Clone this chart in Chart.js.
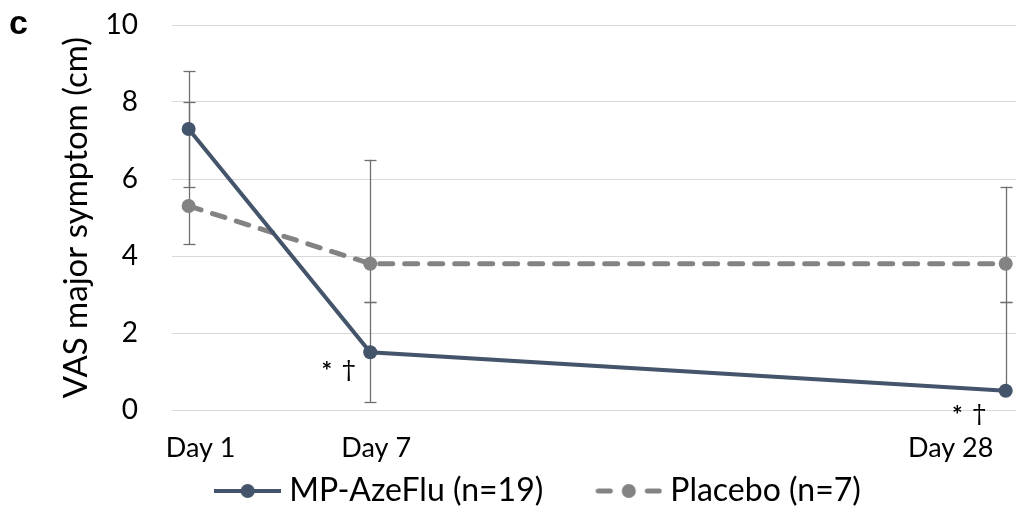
<!DOCTYPE html>
<html><head><meta charset="utf-8">
<script src="https://cdn.jsdelivr.net/npm/chart.js@4.4.1/dist/chart.umd.min.js"></script>
<style>html,body{margin:0;padding:0;background:#fff;}#wrap{width:1023px;height:517px;position:relative;}</style>
</head><body><div id="wrap"><canvas id="c" width="1023" height="517"></canvas></div>
<script>
// ---- data ----
const days = [1, 7, 28];
const dayLabels = ['Day 1', 'Day 7', 'Day 28'];
const yTickValues = [0, 2, 4, 6, 8, 10];
const seriesNames = ['MP-AzeFlu (n=19)', 'Placebo (n=7)'];
const mpValues = [7.3, 1.5, 0.5];
const mpUpper = [8.8, 2.8, 2.8];
const mpLower = [5.8, 0.2, null];
const placeboValues = [5.3, 3.8, 3.8];
const placeboUpper = [8.0, 6.5, 5.8];
const placeboLower = [4.3, 2.8, 2.8];
const mpAsterisk = ['', '*', '*'];
const mpDagger = ['', '†', '†'];
const yTitle = 'VAS major symptom (cm)';
const panelLetter = 'c';

const FONT = 'Lato';
const MP_COLOR = '#44546A';
const PL_COLOR = '#838383';
const PAD_LEFT = 60;

function makeSymbol(color, dashed) {
  const c = document.createElement('canvas');
  c.width = 67; c.height = 18;
  const g = c.getContext('2d');
  g.strokeStyle = color; g.fillStyle = color; g.lineCap = 'round';
  if (dashed) {
    g.lineWidth = 5;
    g.beginPath(); g.moveTo(3, 9); g.lineTo(15, 9); g.stroke();
    g.beginPath(); g.moveTo(52, 9); g.lineTo(64, 9); g.stroke();
  } else {
    g.lineWidth = 4;
    g.beginPath(); g.moveTo(0, 9); g.lineTo(67, 9); g.stroke();
  }
  g.beginPath(); g.arc(33.5, 9, 7, 0, Math.PI * 2); g.fill();
  return c;
}

const errorBars = {
  id: 'errorBars',
  beforeDatasetsDraw(chart) {
    const {ctx, scales: {x, y}} = chart;
    ctx.save();
    ctx.strokeStyle = '#6f6f6f';
    ctx.lineWidth = 1.3;
    const sets = [[mpValues, mpUpper, mpLower], [placeboValues, placeboUpper, placeboLower]];
    sets.forEach(([vals, up, lo]) => {
      days.forEach((d, i) => {
        const px = Math.round(x.getPixelForValue(d)) + 0.5;
        const top = up[i] != null ? up[i] : vals[i];
        const bot = lo[i] != null ? lo[i] : vals[i];
        ctx.beginPath();
        ctx.moveTo(px, y.getPixelForValue(top));
        ctx.lineTo(px, y.getPixelForValue(bot));
        ctx.stroke();
        [up[i], lo[i]].forEach(v => {
          if (v == null) return;
          const py = Math.round(y.getPixelForValue(v)) + 0.5;
          ctx.beginPath(); ctx.moveTo(px - 6, py); ctx.lineTo(px + 6, py); ctx.stroke();
        });
      });
    });
    ctx.restore();
  }
};

const textLayer = {
  id: 'textLayer',
  afterDraw(chart) {
    const {ctx, scales: {x, y}} = chart;
    ctx.save();
    ctx.fillStyle = '#000';
    // x tick labels
    ctx.font = '27px ' + FONT;
    ctx.textAlign = 'center';
    ctx.textBaseline = 'middle';
    const labelShift = [12, 6, -55];
    days.forEach((d, i) => {
      ctx.fillText(dayLabels[i], x.getPixelForValue(d) + labelShift[i], y.bottom + 38);
    });
    // significance marks: asterisk and dagger beside the MP-AzeFlu point
    ctx.textBaseline = 'alphabetic';
    ctx.textAlign = 'right';
    const sigShift = [[0, 0], [-15, 27], [-20, 32]];
    days.forEach((d, i) => {
      if (!mpDagger[i]) return;
      const px = x.getPixelForValue(d) + sigShift[i][0];
      const base = y.getPixelForValue(mpValues[i]) + sigShift[i][1];
      ctx.font = '26px "DejaVu Serif"';
      ctx.fillText(mpDagger[i], px, base);
      ctx.font = 'bold 25px ' + FONT;
      ctx.fillText(mpAsterisk[i], px - 23, base + 1);
    });
    // panel letter
    ctx.font = 'bold 34px "Liberation Sans"';
    ctx.textAlign = 'left';
    ctx.fillText(panelLetter, 9, 34);
    ctx.restore();
  }
};

const symbols = [makeSymbol(MP_COLOR, false), makeSymbol(PL_COLOR, true)];

new Chart(document.getElementById('c'), {
  type: 'line',
  data: {
    datasets: [
      {
        label: seriesNames[0],
        data: days.map((d, i) => ({x: d, y: mpValues[i]})),
        borderColor: MP_COLOR, backgroundColor: MP_COLOR,
        borderWidth: 4, pointRadius: 7, pointHoverRadius: 7,
        pointBorderWidth: 0, tension: 0
      },
      {
        label: seriesNames[1],
        data: days.map((d, i) => ({x: d, y: placeboValues[i]})),
        borderColor: PL_COLOR, backgroundColor: PL_COLOR,
        borderWidth: 5, borderDash: [13, 12], borderCapStyle: 'round',
        pointRadius: 7, pointHoverRadius: 7, pointBorderWidth: 0, tension: 0
      }
    ]
  },
  options: {
    responsive: false,
    animation: false,
    layout: {padding: {top: 0, left: PAD_LEFT, right: 0, bottom: 0}},
    scales: {
      x: {
        type: 'linear', min: 0.45, max: 28.34,
        afterBuildTicks(scale) { scale.ticks = days.map(v => ({value: v})); },
        ticks: {display: false},
        grid: {display: false},
        border: {display: false},
        afterFit(scale) { scale.height = 5; }
      },
      y: {
        min: 0, max: 10,
        afterBuildTicks(scale) { scale.ticks = yTickValues.map(v => ({value: v})); },
        ticks: {font: {family: FONT, size: 28}, color: '#000', padding: 34},
        grid: {color: '#d9d9d9', lineWidth: 1, drawTicks: false},
        border: {display: false},
        title: {display: true, text: yTitle, color: '#000', font: {family: FONT, size: 33}, padding: {top: 57 - PAD_LEFT, bottom: 0}},
        afterFit(scale) { scale.width = 172 - PAD_LEFT; scale.paddingTop = 25; scale.paddingBottom = 20; }
      }
    },
    plugins: {
      tooltip: {enabled: false},
      legend: {
        position: 'bottom',
        labels: {
          font: {family: FONT, size: 32}, color: '#000',
          usePointStyle: true, pointStyleWidth: 51, padding: 60,
          generateLabels(chart) {
            return chart.data.datasets.map((ds, i) => ({
              text: ds.label, pointStyle: symbols[i], fillStyle: ds.borderColor,
              strokeStyle: ds.borderColor, lineWidth: 0, hidden: false, datasetIndex: i, fontColor: '#000'
            }));
          }
        }
      }
    }
  },
  plugins: [errorBars, textLayer]
});
</script></body></html>
